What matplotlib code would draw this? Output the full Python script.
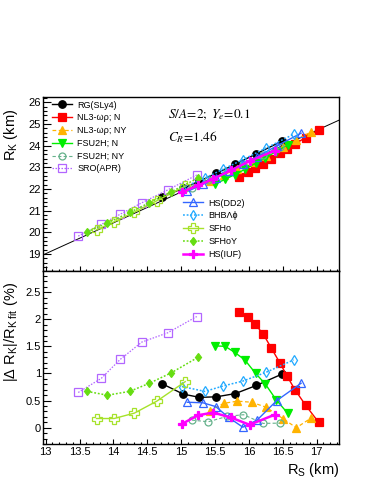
#! /usr/bin/env python3
'''
Kepler radius R_K versus star radius R_S for a set of EoS,
upper pad: R_K with the linear fit, lower pad: relative deviation from the fit.
'''

import matplotlib
matplotlib.use('Agg')
import matplotlib.pyplot as plt
from matplotlib.ticker import MultipleLocator

plt.rcParams['font.family'] = ['Liberation Sans', 'DejaVu Sans']
plt.rcParams['mathtext.fontset'] = 'custom'
plt.rcParams['mathtext.rm'] = 'Liberation Sans'
plt.rcParams['mathtext.it'] = 'Liberation Sans:italic'
plt.rcParams['mathtext.bf'] = 'Liberation Sans:bold'

# fit R_K = a * R_S + b, as drawn
fit_slope = 1.423
fit_offset = 0.52

# R_S (km), R_K (km), |dR_K|/R_K fit (%)
rs_rg = [14.72, 15.03, 15.27, 15.52, 15.80, 16.11, 16.49]
rk_rg = [21.64, 22.04, 22.37, 22.73, 23.15, 23.63, 24.22]
dev_rg = [0.81, 0.62, 0.56, 0.57, 0.63, 0.78, 0.99]

rs_nl3n = [15.85, 15.98, 16.09, 16.21, 16.33, 16.46, 16.56, 16.68, 16.84, 17.03]
rk_nl3n = [22.58, 22.79, 22.97, 23.18, 23.41, 23.66, 23.85, 24.09, 24.38, 24.73]
dev_nl3n = [2.13, 2.04, 1.91, 1.73, 1.47, 1.19, 0.96, 0.70, 0.41, 0.10]

rs_nl3y = [15.42, 15.63, 15.83, 16.04, 16.25, 16.50, 16.70, 16.92]
rk_nl3y = [22.39, 22.66, 22.93, 23.23, 23.55, 23.96, 24.28, 24.64]
dev_nl3y = [0.31, 0.45, 0.49, 0.47, 0.38, 0.17, 0.0, 0.18]

rs_fsun = [15.50, 15.65, 15.79, 15.94, 16.10, 16.24, 16.40, 16.57]
rk_fsun = [22.24, 22.45, 22.67, 22.91, 23.20, 23.44, 23.73, 24.03]
dev_fsun = [1.51, 1.50, 1.39, 1.25, 1.00, 0.81, 0.52, 0.27]

rs_fsuy = [15.16, 15.40, 15.68, 15.92, 16.21, 16.46]
rk_fsuy = [22.06, 22.41, 22.79, 23.12, 23.57, 23.92]
dev_fsuy = [0.14, 0.11, 0.21, 0.24, 0.08, 0.085]

rs_sro = [13.48, 13.82, 14.10, 14.42, 14.80, 15.23]
rk_sro = [19.83, 20.37, 20.84, 21.37, 21.96, 22.65]
dev_sro = [0.65, 0.91, 1.26, 1.58, 1.75, 2.05]

rs_dd2 = [15.09, 15.32, 15.51, 15.70, 15.91, 16.12, 16.41, 16.77]
rk_dd2 = [21.89, 22.22, 22.50, 22.82, 23.16, 23.49, 23.99, 24.58]
dev_dd2 = [0.47, 0.46, 0.39, 0.19, 0.01, 0.14, 0.50, 0.82]

rs_bhb = [15.01, 15.35, 15.62, 15.91, 16.25, 16.66]
rk_bhb = [22.05, 22.51, 22.92, 23.36, 23.89, 24.53]
dev_bhb = [0.76, 0.67, 0.77, 0.86, 1.02, 1.25]

rs_sfho = [13.75, 14.01, 14.31, 14.64, 15.06]
rk_sfho = [20.12, 20.49, 20.94, 21.46, 22.14]
dev_sfho = [0.17, 0.17, 0.27, 0.49, 0.85]

rs_sfhoy = [13.61, 13.91, 14.24, 14.53, 14.85, 15.25]
rk_sfhoy = [20.02, 20.44, 20.92, 21.37, 21.87, 22.51]
dev_sfhoy = [0.67, 0.60, 0.67, 0.82, 1.01, 1.30]

rs_iuf = [15.01, 15.25, 15.47, 15.73, 16.01, 16.38]
rk_iuf = [21.86, 22.17, 22.47, 22.86, 23.29, 23.77]
dev_iuf = [0.07, 0.23, 0.28, 0.19, 0.055, 0.24]

dashed = (0, (3, 2))
dotted = (0, (1.2, 1.2))

# label, data, colour, linestyle, linewidth, marker, size, filled
series = [
    ('RG(SLy4)', rs_rg, rk_rg, dev_rg, 'black', '-', 1.0, 'o', 5.4, True),
    ('NL3-ωρ; N', rs_nl3n, rk_nl3n, dev_nl3n, '#ff0000', '-', 1.0, 's', 5.6, True),
    ('NL3-ωρ; NY', rs_nl3y, rk_nl3y, dev_nl3y, '#ffb300', dashed, 0.9, '^', 5.6, True),
    ('FSU2H; N', rs_fsun, rk_fsun, dev_fsun, '#00ee00', '-', 1.0, 'v', 5.6, True),
    ('FSU2H; NY', rs_fsuy, rk_fsuy, dev_fsuy, '#66b28c', dashed, 0.8, 'o', 5.0, False),
    ('SRO(APR)', rs_sro, rk_sro, dev_sro, '#b266ff', dotted, 0.9, 's', 6.2, False),
    ('HS(DD2)', rs_dd2, rk_dd2, dev_dd2, '#3366ff', '-', 1.0, '^', 6.0, False),
    ('BHBΛϕ', rs_bhb, rk_bhb, dev_bhb, '#22aaff', dotted, 1.1, 'd', 5.5, False),
    ('SFHo', rs_sfho, rk_sfho, dev_sfho, '#a6e22a', '-', 1.0, 'P', 6.5, False),
    ('SFHoY', rs_sfhoy, rk_sfhoy, dev_sfhoy, '#66dd11', dotted, 1.1, 'd', 4.5, True),
    ('HS(IUF)', rs_iuf, rk_iuf, dev_iuf, '#ff00ff', '-', 1.8, 'P', 6.0, True),
]

W, H = 374, 484


def style_axis(ax, ylim, ymajor, yminor):
    ax.set_xlim(12.96, 17.33)
    ax.set_ylim(*ylim)
    ax.xaxis.set_major_locator(MultipleLocator(0.5))
    ax.xaxis.set_minor_locator(MultipleLocator(0.1))
    ax.yaxis.set_major_locator(MultipleLocator(ymajor))
    ax.yaxis.set_minor_locator(MultipleLocator(yminor))
    ax.tick_params(axis='both', which='both', direction='in',
                   top=False, right=False, labelsize=8, width=0.8)
    ax.tick_params(axis='y', which='major', length=6.0, pad=1.5)
    ax.tick_params(axis='y', which='minor', length=3.0)
    ax.tick_params(axis='x', which='major', length=3.6, pad=2.5)
    ax.tick_params(axis='x', which='minor', length=1.8)
    for spine in ax.spines.values():
        spine.set_linewidth(1.0)


def main():
    fig = plt.figure(figsize=(W / 100, H / 100), dpi=100)
    left, right = 43 / W, 339 / W
    ax_top = fig.add_axes([left, 1 - 271 / H, right - left, 174 / H])
    ax_bot = fig.add_axes([left, 1 - 444 / H, right - left, 173 / H])

    ax_top.axline((0, fit_offset), slope=fit_slope, color='black', lw=0.7,
                  zorder=1)

    handles = []
    for label, rs, rk, dev, col, ls, lw, mk, ms, filled in series:
        kw = dict(color=col, linestyle=ls, linewidth=lw, marker=mk,
                  markersize=ms, markeredgecolor=col, markeredgewidth=0.9,
                  markerfacecolor=col if filled else 'none')
        h, = ax_top.plot(rs, rk, label=label, **kw)
        ax_bot.plot(rs, dev, **kw)
        handles.append(h)

    style_axis(ax_top, (18.22, 26.25), 1, 0.2)
    style_axis(ax_bot, (-0.30, 2.89), 0.5, 0.1)
    ax_top.tick_params(axis='x', labelbottom=False)
    ax_bot.set_yticks([0, 0.5, 1, 1.5, 2, 2.5])
    ax_bot.set_yticklabels(['0', '0.5', '1', '1.5', '2', '2.5'])
    ax_bot.set_xticks([13 + 0.5 * i for i in range(9)])
    ax_bot.set_xticklabels(['13', '13.5', '14', '14.5', '15', '15.5',
                            '16', '16.5', '17'])

    leg_kw = dict(frameon=False, fontsize=6.5, handlelength=2.2,
                  handletextpad=0.6, labelspacing=0.42, borderpad=0,
                  borderaxespad=0, numpoints=1, loc='upper left',
                  bbox_transform=fig.transFigure)
    leg1 = ax_top.legend(handles=handles[:6],
                         bbox_to_anchor=(52 / W, 1 - 100.5 / H), **leg_kw)
    ax_top.add_artist(leg1)
    ax_top.legend(handles=handles[6:],
                  bbox_to_anchor=(183 / W, 1 - 198.5 / H), **leg_kw)

    fig.text(168 / W, 1 - 115 / H, r'$\mathit{S/A\!=\!2;\ Y_e\!=\!0.1}$',
             math_fontfamily='stix', fontsize=9.5, ha='left', va='center')
    fig.text(168 / W, 1 - 137 / H, r'$\mathit{C_R\!=\!1.46}$',
             math_fontfamily='stix', fontsize=9.5, ha='left', va='center')

    fig.text(10.5 / W, 1 - 109 / H, r'R$_{\mathrm{K}}$ (km)', fontsize=10.5,
             rotation=90, ha='center', va='top')
    fig.text(11.5 / W, 1 - 282 / H,
             r'|Δ R$_{\mathrm{K}}$|/R$_{\mathrm{K\ fit}}$ (%)', fontsize=10.5,
             rotation=90, ha='center', va='top')
    fig.text(339 / W, 1 - 470 / H, r'R$_{\mathrm{S}}$ (km)', fontsize=10.5,
             ha='right', va='center')

    fig.savefig('out.png', dpi=100)


if __name__ == '__main__':
    main()
